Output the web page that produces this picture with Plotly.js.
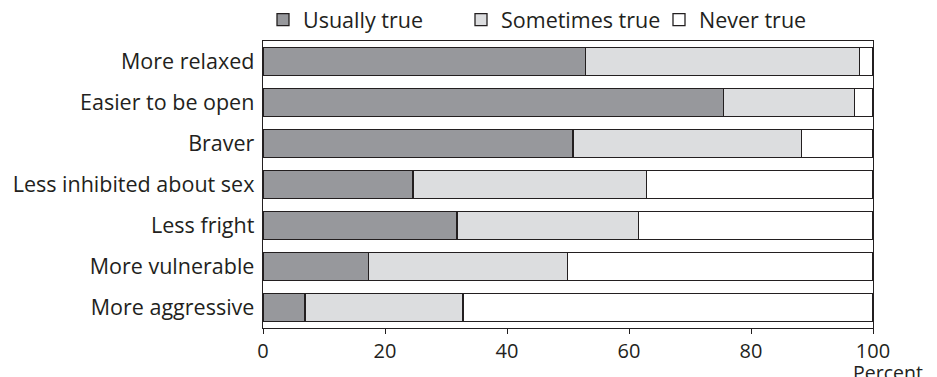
<!DOCTYPE html>
<html><head><meta charset="utf-8">
<script src="https://cdn.plot.ly/plotly-3.0.1.min.js"></script>
<style>html,body{margin:0;padding:0;background:#fff}#chart{width:937px;height:377px}</style>
</head><body><div id="chart"></div>
<script>
const categories = ["More relaxed","Easier to be open","Braver","Less inhibited about sex","Less fright","More vulnerable","More aggressive"];
const usuallyTrue = [52.9, 75.5, 50.8, 24.6, 31.8, 17.3, 6.9];
const sometimesTrue = [44.9, 21.5, 37.5, 38.3, 29.8, 32.6, 25.9];
const neverTrue = [2.2, 3.0, 11.7, 37.1, 38.4, 50.1, 67.2];
const seriesNames = ["Usually true","Sometimes true","Never true"];
const xTicks = [0,20,40,60,80,100];

const fnt = {family:"Open Sans, Noto Sans, sans-serif", size:21.5, color:"#231f20"};
const tfnt = {family:"Open Sans, Noto Sans, sans-serif", size:20, color:"#231f20"};
const pfnt = {family:"Open Sans, Noto Sans, sans-serif", size:19.5, color:"#231f20"};
const colors = ["#97989c","#dcdddf","#ffffff"];
const vals = [usuallyTrue, sometimesTrue, neverTrue];
const data = vals.map((v,i)=>({
  type:"bar", orientation:"h", name:seriesNames[i], x:v, y:categories,
  marker:{color:colors[i], line:{color:"#231f20", width:1.3}},
  hoverinfo:"skip"
}));
const layout = {
  width:937, height:377,
  margin:{l:263, r:64, t:41, b:49, autoexpand:false},
  barmode:"stack", bargap:0.32,
  paper_bgcolor:"#fff", plot_bgcolor:"#fff",
  font:fnt,
  showlegend:true,
  legend:{orientation:"h", x:0, xanchor:"left", y:1.003, yanchor:"bottom", font:fnt, traceorder:"normal",
    itemwidth:30, entrywidth:153, entrywidthmode:"pixels", bgcolor:"rgba(0,0,0,0)"},
  xaxis:{range:[0,100], tickvals:xTicks, ticktext:xTicks.map(String), ticks:"outside", ticklen:5, tickcolor:"#231f20",
    showline:true, linecolor:"#231f20", linewidth:1.3, mirror:true, showgrid:false, zeroline:false, tickfont:tfnt, fixedrange:true},
  yaxis:{categoryorder:"array", categoryarray:categories, autorange:"reversed", showline:true, linecolor:"#231f20", linewidth:1.3, mirror:true,
    showgrid:false, ticks:"", tickfont:fnt, ticklabelstandoff:3},
  annotations:[{text:"Percent", xref:"paper", yref:"paper", x:1.0, y:0, xanchor:"left", yanchor:"top", yshift:-29, xshift:-22, showarrow:false, font:pfnt}]
};
Plotly.newPlot("chart", data, layout, {displayModeBar:false, staticPlot:true});
</script></body></html>
